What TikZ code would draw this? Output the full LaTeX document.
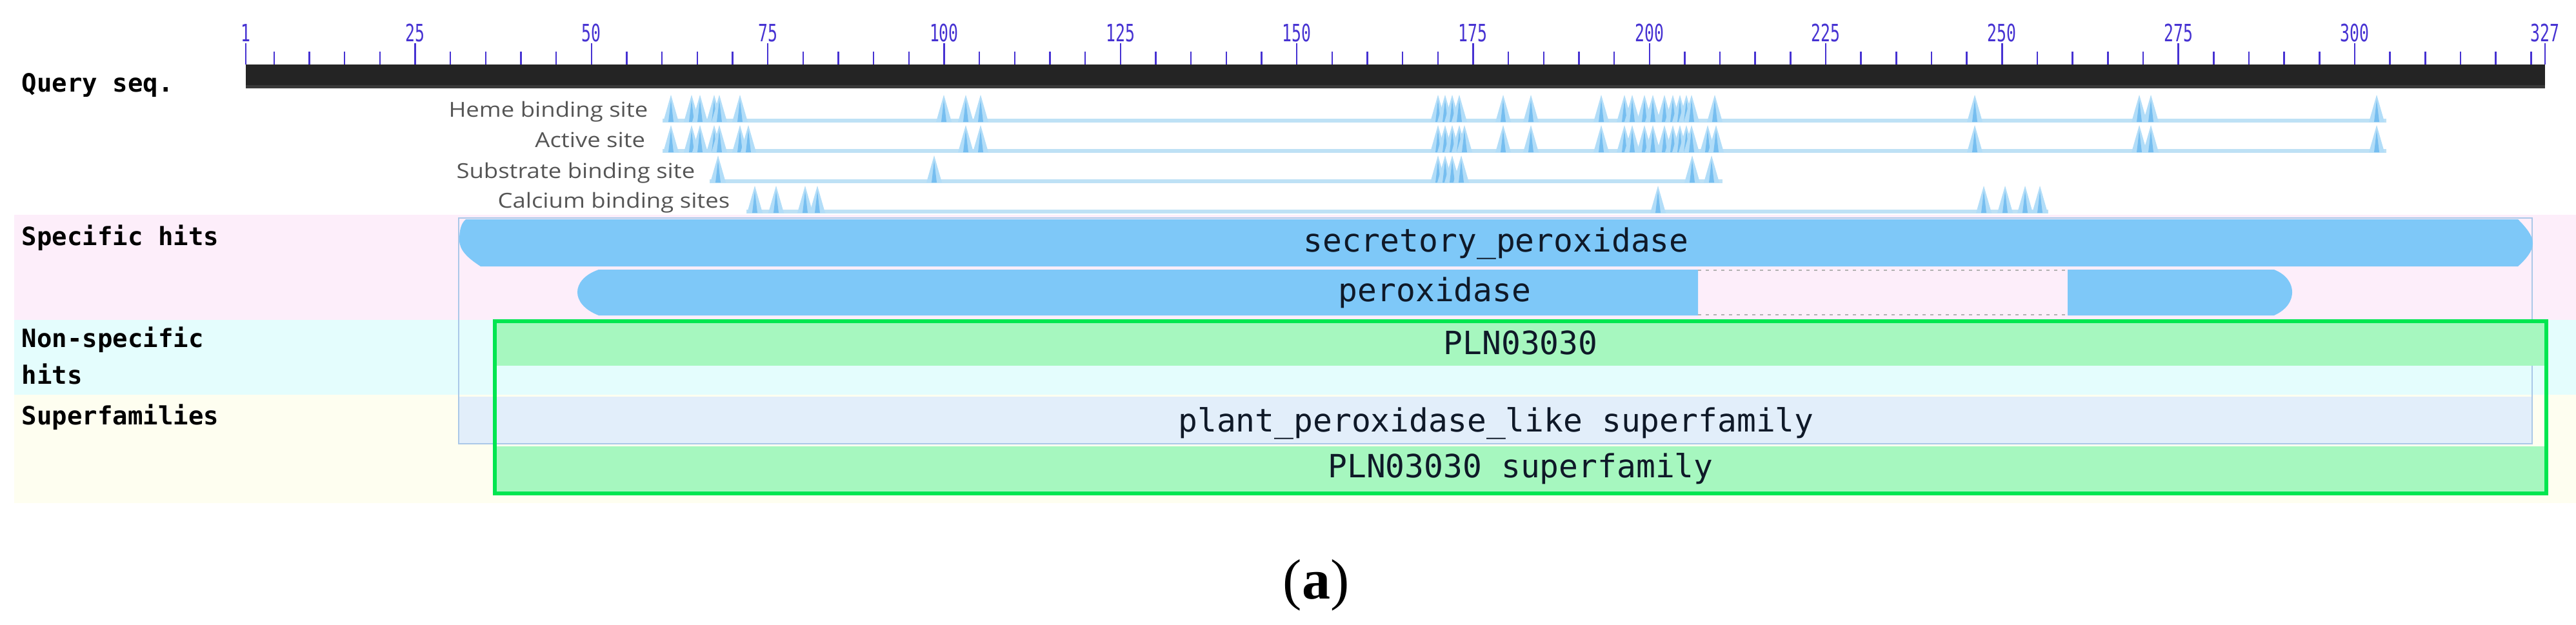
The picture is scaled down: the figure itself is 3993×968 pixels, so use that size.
\documentclass[tikz,border=0pt]{standalone}
\usepackage{fontspec}
\usepackage{graphicx}
\setmainfont{Liberation Serif}
\newfontfamily\monof{DejaVu Sans Mono}
\newfontfamily\sansf{Open Sans}
\definecolor{bgpink}{RGB}{253,238,250}
\definecolor{bgcyan}{RGB}{228,253,253}
\definecolor{bgyellow}{RGB}{254,254,240}
\definecolor{hitblue}{RGB}{126,200,248}
\definecolor{sfblue}{RGB}{226,238,250}
\definecolor{sfline}{RGB}{170,200,232}
\definecolor{pgreen}{RGB}{166,247,191}
\definecolor{gborder}{RGB}{0,230,80}
\definecolor{sitelight}{RGB}{178,221,248}
\definecolor{sitedark}{RGB}{118,190,240}
\definecolor{trackc}{RGB}{190,225,245}
\definecolor{tickc}{RGB}{70,50,210}
\definecolor{rulerc}{RGB}{36,36,36}
\definecolor{labgray}{RGB}{85,85,85}
\definecolor{hittext}{RGB}{15,25,40}
\newcommand\site[2]{%
  \fill[sitelight] (#1-12,#2+2) -- (#1,#2-40) -- (#1+12,#2+2) -- cycle;
  \fill[sitedark] (#1-4,#2+2) -- (#1,#2-32) -- (#1+4,#2+2) -- cycle;}
\begin{document}
\begin{tikzpicture}[x=0.25pt,y=-0.25pt,
  seclab/.style={inner sep=0pt,font=\monof\bfseries\fontsize{9.75}{11}\selectfont,text=black},
  hitlab/.style={inner sep=0pt,font=\monof\fontsize{12.4}{14}\selectfont,text=hittext},
  trklab/.style={inner sep=0pt,font=\sansf\fontsize{8}{9}\selectfont,text=labgray},
  rlab/.style={inner sep=0pt,font=\monof\fontsize{9.25}{10}\selectfont,text=tickc},
  tick/.style={draw=tickc,line width=0.6pt},
  trackline/.style={draw=trackc,line width=1.5pt},
  gapline/.style={draw=gray!60,line width=0.7pt,dash pattern=on 1.2pt off 1.8pt}]
\useasboundingbox (0,0) rectangle (3993,968);
\fill[white] (0,0) rectangle (3993,968);
% row backgrounds
\fill[bgpink] (22,333) rectangle (3993,496);
\fill[bgcyan] (22,496) rectangle (3993,612);
\fill[bgyellow] (22,612) rectangle (3993,780);
% ruler
\fill[rulerc] (381,100) rectangle (3945,137);
\fill[gray!45!black] (381,132) rectangle (3945,137);
\foreach \n in {5,10,...,325} {
  \pgfmathsetmacro\xx{381+(\n-1)*10.933}
  \draw[tick] (\xx,80) -- (\xx,100);
}
\foreach \n in {1,25,50,75,100,125,150,175,200,225,250,275,300,327} {
  \pgfmathsetmacro\xx{381+(\n-1)*10.933}
  \draw[tick] (\xx,67) -- (\xx,100);
  \node[rlab,anchor=base] (r\n) at (\xx,64) {\scalebox{0.67}[1]{\n}};
}
% site tracks
\draw[trackline] (1027,187) -- (3699,187);
\draw[trackline] (1027,234) -- (3699,234);
\draw[trackline] (1100,281) -- (2670,281);
\draw[trackline] (1157,328) -- (3175,328);
\foreach \x in {1040,1072,1085,1107,1115,1147,1463,1497,1520,2229,2240,2251,2262,2330,2373,2482,2518,2530,2549,2562,2580,2593,2604,2614,2622,2658,3061,3316,3334,3684}
  {\site{\x}{187}}
\foreach \x in {1040,1072,1085,1107,1115,1147,1160,1497,1520,2229,2240,2251,2262,2270,2330,2373,2482,2518,2530,2549,2562,2580,2593,2604,2614,2622,2647,2660,3061,3316,3334,3684}
  {\site{\x}{234}}
\foreach \x in {1113,1448,2229,2240,2251,2265,2623,2653}
  {\site{\x}{281}}
\foreach \x in {1170,1203,1248,1267,2570,3075,3108,3139,3162}
  {\site{\x}{328}}
\node[trklab,anchor=base east] (heme) at (1005,181) {\scalebox{1.14}[1]{Heme binding site}};
\node[trklab,anchor=base east] (act) at (1001,228) {\scalebox{1.14}[1]{Active site}};
\node[trklab,anchor=base east] (subs) at (1078,276) {\scalebox{1.14}[1]{Substrate binding site}};
\node[trklab,anchor=base east] (calc) at (1132,322) {\scalebox{1.14}[1]{Calcium binding sites}};
% superfamily outline
\draw[sfline,line width=0.5pt] (711,338) rectangle (3925,688);
% specific hits
\fill[hitblue] (722,340) -- (3903,340) .. controls (3915,352) and (3926,365) .. (3926,377)
  .. controls (3926,390) and (3915,402) .. (3903,413) -- (745,413)
  .. controls (725,400) and (712,388) .. (712,372) .. controls (712,356) and (715,346) .. (722,340) -- cycle;
\fill[hitblue] (928,418) -- (2632,418) -- (2632,489) -- (928,489)
  .. controls (905,480) and (895,466) .. (895,453) .. controls (895,440) and (905,426) .. (928,418) -- cycle;
\fill[hitblue] (3205,418) -- (3525,418) .. controls (3545,426) and (3553,440) .. (3553,453)
  .. controls (3553,466) and (3545,480) .. (3525,489) -- (3205,489) -- cycle;
\draw[gapline] (2632,419) -- (3205,419);
\draw[gapline] (2632,488) -- (3205,488);
% superfamily band
\fill[sfblue] (712,615) rectangle (3924,687);
\draw[sfline,line width=0.5pt] (711,688) -- (3925,688);
% non-specific hit and PLN03030 superfamily
\fill[pgreen] (767,500) rectangle (3947,567);
\fill[pgreen] (767,692) rectangle (3947,762);
\draw[gborder,line width=1.5pt] (767,498) rectangle (3947,765);
% labels
\node[seclab,anchor=base west] (q) at (33,142) {Query seq.};
\node[seclab,anchor=base west] (sh) at (33,380) {Specific hits};
\node[seclab,anchor=base west] (ns1) at (33,538) {Non-specific};
\node[seclab,anchor=base west] (ns2) at (33,595) {hits};
\node[seclab,anchor=base west] (sf) at (33,658) {Superfamilies};
\node[hitlab,anchor=base] (secp) at (2319,390) {secretory\_peroxidase};
\node[hitlab,anchor=base] (perox) at (2224,467) {peroxidase};
\node[hitlab,anchor=base] (pln) at (2357,549) {PLN03030};
\node[hitlab,anchor=base] (ppl) at (2319,669) {plant\_peroxidase\_like superfamily};
\node[hitlab,anchor=base] (plnsf) at (2357,740) {PLN03030 superfamily};
\node[inner sep=0pt,anchor=base,font=\fontsize{22}{24}\selectfont] (cap) at (2040,928) {(\textbf{a})};
\end{tikzpicture}
\end{document}
